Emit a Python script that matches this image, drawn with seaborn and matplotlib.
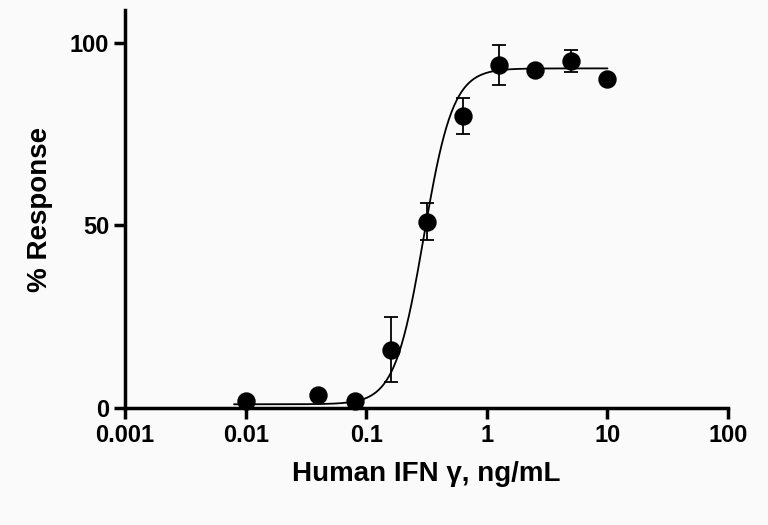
import numpy as np
import matplotlib
matplotlib.use("Agg")
import matplotlib.pyplot as plt
import seaborn as sns
import pandas as pd

conc = [0.01, 0.04, 0.08, 0.16, 0.32, 0.63, 1.25, 2.5, 5.0, 10.0]
resp = [2.0, 3.5, 2.0, 16.0, 51.0, 80.0, 94.0, 92.5, 95.0, 90.0]
err = [0.0, 0.0, 0.0, 9.0, 5.0, 5.0, 5.5, 0.0, 3.0, 0.0]
fit_bottom, fit_top, fit_ec50, fit_hill = 1.0, 93.0, 0.30, 3.6
xticks = [0.001, 0.01, 0.1, 1, 10, 100]
xticklabels = ["0.001", "0.01", "0.1", "1", "10", "100"]
yticks = [0, 50, 100]

sns.set_style("ticks")
plt.rcParams['font.family'] = ['Liberation Sans', 'DejaVu Sans']
bg = "#fafafa"
fig = plt.figure(figsize=(7.68, 5.25), dpi=100, facecolor=bg)
ax = fig.add_axes([0.163, 0.223, 0.785, 0.758], facecolor=bg)

xs = np.logspace(np.log10(0.008), np.log10(10), 300)
ys = fit_bottom + (fit_top - fit_bottom) / (1 + (fit_ec50 / xs) ** fit_hill)
sns.lineplot(x=xs, y=ys, ax=ax, color="black", lw=1.3)
ax.errorbar(conc, resp, yerr=err, fmt="none", ecolor="black", elinewidth=1.3, capsize=5, capthick=1.3)
df = pd.DataFrame({"c": conc, "r": resp})
sns.scatterplot(data=df, x="c", y="r", ax=ax, color="black", s=150, edgecolor="black", zorder=5, clip_on=False)

ax.set_xscale("log")
ax.set_xlim(0.001, 100)
ax.set_ylim(0, 109)
ax.set_xticks(xticks)
ax.set_xticklabels(xticklabels)
ax.minorticks_off()
ax.set_yticks(yticks)
for s in ["top", "right"]:
    ax.spines[s].set_visible(False)
for s in ["left", "bottom"]:
    ax.spines[s].set_linewidth(2.5)
    ax.spines[s].set_color("black")
ax.tick_params(width=2.5, length=8, labelsize=17, colors="black")
for lab in ax.get_xticklabels() + ax.get_yticklabels():
    lab.set_fontweight("bold")
ax.set_xlabel("Human IFN γ, ng/mL", fontsize=20, fontweight="bold", labelpad=10, color="black")
ax.set_ylabel("% Response", fontsize=20, fontweight="bold", labelpad=12, color="black")
fig.savefig("out.png", dpi=100, facecolor=bg)
